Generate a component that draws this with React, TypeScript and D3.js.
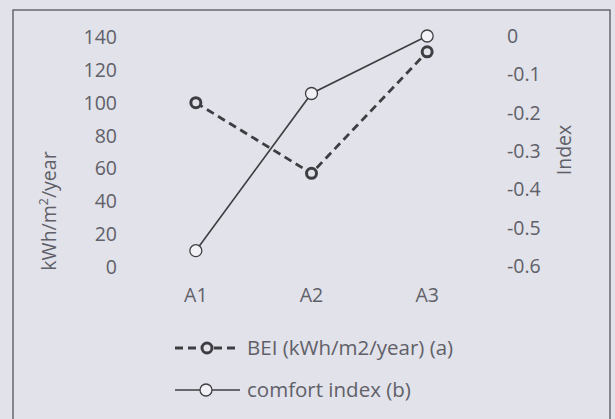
import React, { useEffect, useRef } from 'react';
import * as d3 from 'd3';

const categories = ['A1', 'A2', 'A3'];
const beiValues = [100, 57, 131];
const comfortValues = [-0.56, -0.15, 0];
const leftTicks = [0, 20, 40, 60, 80, 100, 120, 140];
const rightTicks = [0, -0.1, -0.2, -0.3, -0.4, -0.5, -0.6];
const legendLabels = ['BEI (kWh/m2/year) (a)', 'comfort index (b)'];

const App = () => {
    const ref = useRef<SVGSVGElement>(null);

    useEffect(() => {
        if (!ref.current) return;
        const svg = d3.select(ref.current);
        svg.selectAll('*').remove();

        const W = 615, H = 419;
        const font = '"Open Sans", sans-serif';
        const fs = 19.5;
        const textColor = '#606068';
        const lineColor = '#3e3e42';
        const bg = '#e2e2ea';

        svg.append('rect').attr('width', W).attr('height', H).attr('fill', bg);
        svg.append('rect')
            .attr('x', 13).attr('y', 10).attr('width', 597).attr('height', 430)
            .attr('fill', 'none').attr('stroke', '#55555a').attr('stroke-width', 1.3);

        const x = d3.scalePoint<string>().domain(categories).range([138, 485]).padding(0.5);
        const yL = d3.scaleLinear().domain([0, 140]).range([267, 37]);
        const yR = d3.scaleLinear().domain([-0.6, 0]).range([266, 36]);

        // left ticks
        svg.append('g').selectAll('text').data(leftTicks).join('text')
            .attr('x', 117).attr('y', d => yL(d)).attr('dy', '0.36em')
            .attr('text-anchor', 'end').attr('font-family', font).attr('font-size', fs)
            .attr('fill', textColor).text(d => String(d));

        // right ticks
        svg.append('g').selectAll('text').data(rightTicks).join('text')
            .attr('x', 507).attr('y', d => yR(d)).attr('dy', '0.36em')
            .attr('text-anchor', 'start').attr('font-family', font).attr('font-size', fs)
            .attr('fill', textColor).text(d => d === 0 ? '0' : d.toFixed(1));

        // category labels
        svg.append('g').selectAll('text').data(categories).join('text')
            .attr('x', d => x(d) as number).attr('y', 295).attr('dy', '0.36em')
            .attr('text-anchor', 'middle').attr('font-family', font).attr('font-size', fs)
            .attr('fill', textColor).text(d => d);

        // axis titles
        const lt = svg.append('text')
            .attr('transform', 'translate(49,211) rotate(-90)')
            .attr('text-anchor', 'middle').attr('dy', '0.36em')
            .attr('font-family', font).attr('font-size', fs).attr('fill', textColor);
        lt.append('tspan').text('kWh/m');
        lt.append('tspan').attr('baseline-shift', 'super').attr('font-size', 12.5).text('2');
        lt.append('tspan').text('/year');

        svg.append('text')
            .attr('transform', 'translate(564,150) rotate(-90)')
            .attr('text-anchor', 'middle').attr('dy', '0.36em')
            .attr('font-family', font).attr('font-size', fs).attr('fill', textColor)
            .text('Index');

        const beiLine = d3.line<number>().x((_, i) => x(categories[i]) as number).y(d => yL(d));
        const comfortLine = d3.line<number>().x((_, i) => x(categories[i]) as number).y(d => yR(d));

        svg.append('path').datum(beiValues)
            .attr('fill', 'none').attr('stroke', lineColor).attr('stroke-width', 2.8)
            .attr('stroke-dasharray', '8,5').attr('d', beiLine);

        svg.append('path').datum(comfortValues)
            .attr('fill', 'none').attr('stroke', lineColor).attr('stroke-width', 1.6)
            .attr('d', comfortLine);

        svg.append('g').selectAll('circle').data(beiValues).join('circle')
            .attr('cx', (_, i) => x(categories[i]) as number).attr('cy', d => yL(d)).attr('r', 5)
            .attr('fill', bg).attr('stroke', lineColor).attr('stroke-width', 3);

        svg.append('g').selectAll('circle').data(comfortValues).join('circle')
            .attr('cx', (_, i) => x(categories[i]) as number).attr('cy', d => yR(d)).attr('r', 6)
            .attr('fill', '#f2f2f6').attr('stroke', lineColor).attr('stroke-width', 1.3);

        // legend
        const ly = [348, 390];
        const leg = svg.append('g');
        leg.append('line').attr('x1', 175).attr('x2', 240).attr('y1', ly[0]).attr('y2', ly[0])
            .attr('stroke', lineColor).attr('stroke-width', 2.8).attr('stroke-dasharray', '8,5');
        leg.append('circle').attr('cx', 207).attr('cy', ly[0]).attr('r', 5)
            .attr('fill', bg).attr('stroke', lineColor).attr('stroke-width', 3);
        leg.append('line').attr('x1', 175).attr('x2', 240).attr('y1', ly[1]).attr('y2', ly[1])
            .attr('stroke', lineColor).attr('stroke-width', 1.6);
        leg.append('circle').attr('cx', 206).attr('cy', ly[1]).attr('r', 6)
            .attr('fill', '#f2f2f6').attr('stroke', lineColor).attr('stroke-width', 1.3);
        leg.selectAll('text').data(legendLabels).join('text')
            .attr('x', 247).attr('y', (_, i) => ly[i]).attr('dy', '0.36em')
            .attr('font-family', font).attr('font-size', 20.5).attr('fill', textColor)
            .text(d => d);
    }, []);

    return (
        <svg ref={ref} width={615} height={419}
            style={{ position: 'absolute', left: 0, top: 0, display: 'block' }} />
    );
};

export default App;
